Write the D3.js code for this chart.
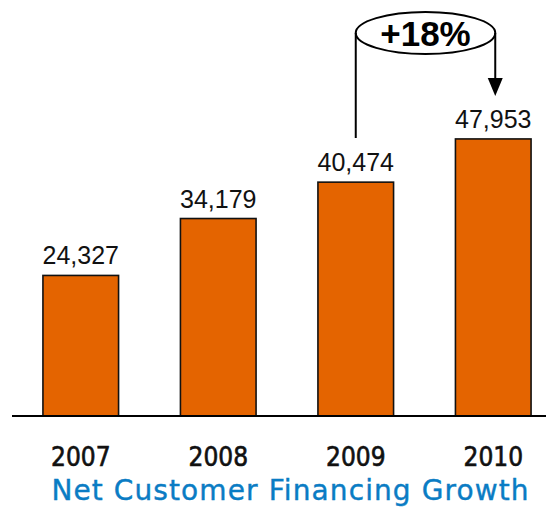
<!DOCTYPE html>
<html>
<head>
<meta charset="utf-8">
<script src="https://cdn.jsdelivr.net/npm/d3@7"></script>
<style>
  html, body { margin: 0; padding: 0; background: #fff; }
  svg { display: block; }
</style>
</head>
<body>
<svg id="chart" width="553" height="507"></svg>
<script>
// Net customer financing by year
const years = ["2007", "2008", "2009", "2010"];
const values = [24327, 34179, 40474, 47953];
const growthLabel = "+18%";
const title = "Net Customer Financing Growth";

const svg = d3.select("#chart");

const baseline = 416;
const x = d3.scaleBand().domain(years).range([12, 562]).paddingInner(0.45).paddingOuter(0.225);
const y = d3.scaleLinear().domain([0, 72000]).range([baseline, 0]);

// bars
svg.selectAll("rect.bar").data(values).join("rect")
  .attr("class", "bar")
  .attr("x", (d, i) => x(years[i]))
  .attr("y", d => y(d))
  .attr("width", x.bandwidth())
  .attr("height", d => baseline - y(d))
  .attr("fill", "#E46400")
  .attr("stroke", "#111")
  .attr("stroke-width", 1.6);

// value labels
const fmt = d3.format(",");
svg.selectAll("text.val").data(values).join("text")
  .attr("class", "val")
  .attr("x", (d, i) => x(years[i]) + x.bandwidth() / 2)
  .attr("y", d => y(d) - 11)
  .attr("text-anchor", "middle")
  .attr("font-family", "Liberation Sans, Arial, sans-serif")
  .attr("font-size", 25)
  .attr("fill", "#111")
  .text(d => fmt(d));

// baseline axis
const xAxis = d3.axisBottom(x).tickSize(0).tickPadding(0);
const ax = svg.append("g").attr("transform", `translate(0,${baseline})`).call(xAxis);
ax.select(".domain").remove();
ax.append("line").attr("x1", 12).attr("x2", 546).attr("y1", 0).attr("y2", 0)
  .attr("stroke", "#000").attr("stroke-width", 2);
ax.selectAll(".tick text")
  .attr("y", 50)
  .attr("dy", 0)
  .attr("font-family", "DejaVu Sans Condensed, DejaVu Sans, sans-serif")
  .attr("font-size", 26)
  .attr("fill", "#111")
  .attr("stroke", "#111")
  .attr("stroke-width", 0.6);

// title
const titleSpacing = 1.1;
svg.append("text")
  .attr("x", 290 + titleSpacing / 2)
  .attr("y", 500)
  .attr("text-anchor", "middle")
  .attr("font-family", "DejaVu Sans, sans-serif")
  .attr("font-size", 28)
  .attr("letter-spacing", titleSpacing)
  .attr("fill", "#0A7CC4")
  .attr("stroke", "#0A7CC4")
  .attr("stroke-width", 0.4)
  .text(title);

// growth annotation from 2009 to 2010
const c9 = x("2009") + x.bandwidth() / 2;
const c10 = x("2010") + x.bandwidth() / 2;
const ecx = (c9 + c10) / 2 + 1, ecy = 33, erx = (c10 - c9) / 2 + 1, ery = 21;
const g = svg.append("g").attr("stroke", "#000").attr("stroke-width", 2).attr("fill", "none");
g.append("ellipse").attr("cx", ecx).attr("cy", ecy).attr("rx", erx).attr("ry", ery).attr("fill", "#fff");
g.append("line").attr("x1", ecx - erx).attr("x2", ecx - erx).attr("y1", ecy).attr("y2", 138);
g.append("line").attr("x1", ecx + erx).attr("x2", ecx + erx).attr("y1", ecy).attr("y2", 80);
svg.append("path")
  .attr("d", `M${ecx + erx - 7.5},78 L${ecx + erx + 7.5},78 L${ecx + erx},96 Z`)
  .attr("fill", "#000");
svg.append("text")
  .attr("x", ecx)
  .attr("y", 46)
  .attr("text-anchor", "middle")
  .attr("font-family", "Liberation Sans, Arial, sans-serif")
  .attr("font-weight", "bold")
  .attr("font-size", 35)
  .attr("fill", "#000")
  .text(growthLabel);
</script>
</body>
</html>
